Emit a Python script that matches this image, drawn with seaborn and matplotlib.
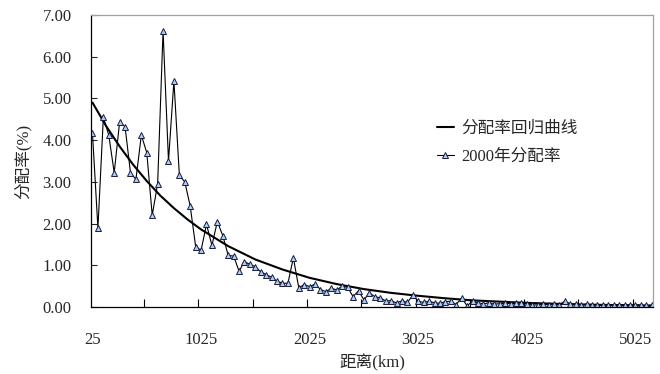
import numpy as np
import pandas as pd
import matplotlib
matplotlib.use("Agg")
import matplotlib.pyplot as plt
import seaborn as sns

# ---- data ----
distance_km = list(range(25, 5176, 50))  # 104 categories, every 50 km
rate_2000 = [
    4.16, 1.89, 4.55, 4.12, 3.22, 4.44, 4.32, 3.22, 3.06, 4.12,
    3.70, 2.20, 2.95, 6.62, 3.50, 5.42, 3.16, 3.00, 2.42, 1.45,
    1.36, 1.98, 1.48, 2.05, 1.71, 1.24, 1.22, 0.86, 1.09, 1.02,
    0.97, 0.84, 0.78, 0.71, 0.62, 0.57, 0.57, 1.18, 0.46, 0.54,
    0.49, 0.55, 0.42, 0.37, 0.45, 0.41, 0.50, 0.47, 0.25, 0.39,
    0.17, 0.34, 0.25, 0.22, 0.15, 0.15, 0.10, 0.15, 0.11, 0.28,
    0.14, 0.11, 0.14, 0.10, 0.09, 0.13, 0.14, 0.06, 0.22, 0.03,
    0.14, 0.10, 0.08, 0.10, 0.07, 0.08, 0.09, 0.08, 0.09, 0.10,
    0.08, 0.05, 0.05, 0.07, 0.05, 0.08, 0.06, 0.14, 0.08, 0.07,
    0.06, 0.07, 0.06, 0.06, 0.05, 0.06, 0.05, 0.06, 0.05, 0.05,
    0.05, 0.05, 0.04, 0.05,
]
curve_km = [25, 150, 275, 400, 525, 650, 775, 900, 1025, 1275, 1525, 1775,
            2025, 2275, 2525, 2775, 3025, 3275, 3525, 3775, 4025, 4275,
            4525, 4775, 5025, 5175]
curve_rate = [4.90, 4.34, 3.85, 3.41, 3.02, 2.67, 2.37, 2.10, 1.86, 1.46,
              1.14, 0.90, 0.70, 0.55, 0.43, 0.34, 0.27, 0.21, 0.16, 0.13,
              0.10, 0.08, 0.06, 0.05, 0.04, 0.03]
x_tick_labels = ["25", "1025", "2025", "3025", "4025", "5025"]
y_ticks = [0, 1, 2, 3, 4, 5, 6, 7]

name_curve = "分配率回归曲线"
name_points = "2000年分配率"

df_pts = pd.DataFrame({"km": distance_km, "rate": rate_2000})
df_cur = pd.DataFrame({"km": curve_km, "rate": curve_rate})

sns.set_style("ticks")
plt.rcParams["font.family"] = ["Liberation Serif", "Noto Sans CJK SC", "DejaVu Sans"]
plt.rcParams["axes.unicode_minus"] = False

fig = plt.figure(figsize=(6.6, 3.74), dpi=100)
ax = fig.add_axes([0.138, 0.179, 0.851, 0.781])

sns.lineplot(data=df_cur, x="km", y="rate", ax=ax, color="black", lw=1.5,
             label=name_curve, sort=False, estimator=None)
sns.lineplot(data=df_pts, x="km", y="rate", ax=ax, color="black", lw=0.8,
             marker="^", markersize=5, markerfacecolor="#a8d0f5",
             markeredgecolor="#1a1a40", markeredgewidth=0.7,
             label=name_points, sort=False, estimator=None)

ax.set_xlim(12, 5185)
ax.set_ylim(0, 7)
ax.set_yticks(y_ticks)
ax.set_yticklabels([f"{v:.2f}" for v in y_ticks])
label_pos = [int(s) for s in x_tick_labels]
ax.set_xticks(label_pos)
ax.set_xticklabels(x_tick_labels)
ax.set_xticks(list(range(500, 5001, 500)), minor=True)
ax.tick_params(axis="x", which="major", length=0, labelsize=12, pad=18)
ax.tick_params(axis="x", which="minor", direction="in", length=6, width=0.8, color="black")
ax.tick_params(axis="y", which="major", direction="in", length=4, width=0.8, labelsize=12, pad=14)

for s in ["left", "bottom"]:
    ax.spines[s].set_color("black")
    ax.spines[s].set_linewidth(0.9)
for s in ["top", "right"]:
    ax.spines[s].set_visible(True)
    ax.spines[s].set_color("#a0a0a0")
    ax.spines[s].set_linewidth(0.9)

ax.set_xlabel("距离(km)", fontsize=12, labelpad=4)
ax.set_ylabel("分配率(%)", fontsize=12, labelpad=8)

leg = ax.legend(loc="upper left", bbox_to_anchor=(0.601, 0.665), frameon=False,
                fontsize=12, handlelength=1.0, handletextpad=0.45,
                labelspacing=0.7, borderpad=0)

fig.savefig("out.png", dpi=100)
